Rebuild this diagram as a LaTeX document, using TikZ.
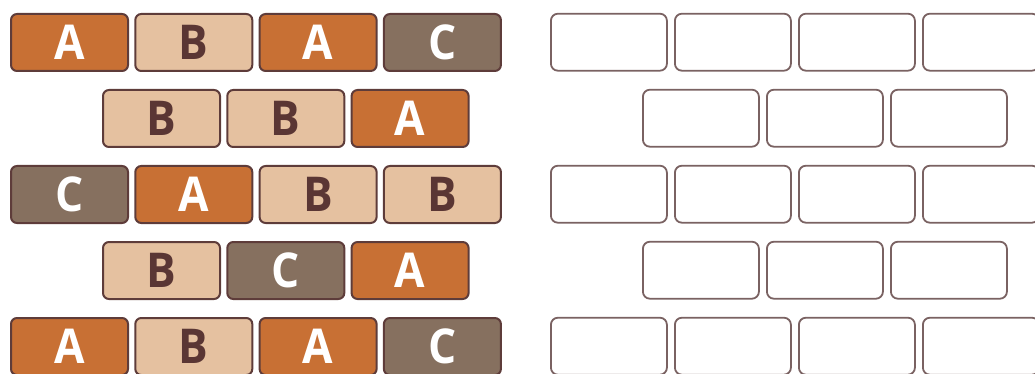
\documentclass[tikz,border=0pt]{standalone}
\usepackage{fontspec}
\setmainfont{Open Sans}[FakeStretch=0.92]
\definecolor{cA}{HTML}{C87034}
\definecolor{cB}{HTML}{E5C1A0}
\definecolor{cC}{HTML}{86705F}
\definecolor{edgeL}{HTML}{5E3C3A}
\definecolor{txtB}{HTML}{5A3634}
\definecolor{edgeR}{HTML}{7A6262}
\tikzset{
  tile/.style={draw=edgeL, line width=2pt, rounded corners=6pt, minimum width=117pt, minimum height=57pt, inner sep=0pt, anchor=north west, font=\fontsize{48}{48}\selectfont\bfseries},
  tA/.style={tile, fill=cA, text=white},
  tB/.style={tile, fill=cB, text=txtB},
  tC/.style={tile, fill=cC, text=white},
  slot/.style={draw=edgeR, line width=1.8pt, rounded corners=7pt, minimum width=116pt, minimum height=57pt, inner sep=0pt, anchor=north west, fill=white},
}
\begin{document}
\begin{tikzpicture}[x=1pt,y=-1pt]
\useasboundingbox (0,0) rectangle (1035,374);
% left rows
\foreach \r/\seq in {0/{A,B,A,C},2/{C,A,B,B},4/{A,B,A,C}}{
  \foreach \t [count=\c from 0] in \seq {
    \node[t\t] (L-\r-\c) at ({10+124.3*\c},{13+76*\r}) {\t};
  }
}
\foreach \r/\seq in {1/{B,B,A},3/{B,C,A}}{
  \foreach \t [count=\c from 0] in \seq {
    \node[t\t] (L-\r-\c) at ({102+124.3*\c},{13+76*\r}) {\t};
  }
}
% right rows
\foreach \r in {0,2,4}{
  \foreach \c in {0,...,3}{
    \node[slot] (R-\r-\c) at ({550+124*\c},{12.8+76*\r}) {};
  }
}
\foreach \r in {1,3}{
  \foreach \c in {0,...,2}{
    \node[slot] (R-\r-\c) at ({642+124*\c},{12.8+76*\r}) {};
  }
}
\end{tikzpicture}
\end{document}
